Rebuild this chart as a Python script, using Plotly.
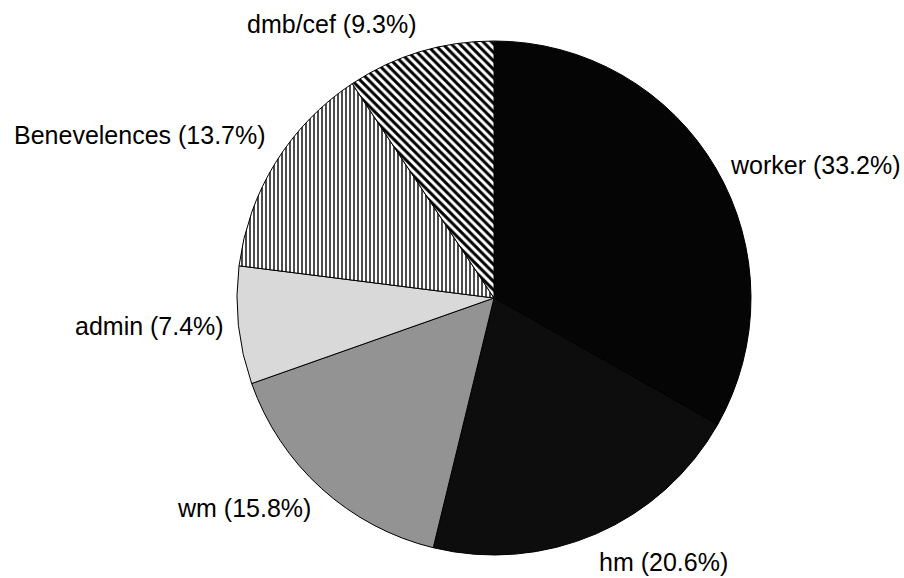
import plotly.graph_objects as go

# Share of each group, listed clockwise from 12 o'clock
categories = ["worker", "hm", "wm", "admin", "Benevelences", "dmb/cef"]
shares = [33.2, 20.6, 15.8, 7.4, 13.7, 9.3]

# Fill styling per slice
fill_colors = ["#050505", "#0d0d0d", "#939393", "#d9d9d9", "#ffffff", "#ffffff"]
fill_patterns = ["", "", "", "", "|", "\\"]
pattern_sizes = [8, 8, 8, 8, 4, 6]
pattern_solidity = [0.3, 0.3, 0.3, 0.3, 0.35, 0.5]

# Label anchor points (paper pixels) and horizontal anchoring
label_px = {
    "worker": (728, 165, "left"),
    "hm": (597, 562, "left"),
    "wm": (313, 508, "right"),
    "admin": (226, 326, "right"),
    "Benevelences": (12, 135, "left"),
    "dmb/cef": (245, 24, "left"),
}

W, H = 904, 578

fig = go.Figure(
    go.Pie(
        labels=categories,
        values=shares,
        sort=False,
        direction="clockwise",
        rotation=0,
        textinfo="none",
        hoverinfo="label+percent",
        showlegend=False,
        marker=dict(
            colors=fill_colors,
            line=dict(color="#000000", width=1),
            pattern=dict(
                shape=fill_patterns,
                fgcolor="#000000",
                size=pattern_sizes,
                solidity=pattern_solidity,
            ),
        ),
        domain=dict(x=[237 / W, 751 / W], y=[1 - 555 / H, 1 - 41 / H]),
    )
)

for name, val in zip(categories, shares):
    px, py, anchor = label_px[name]
    fig.add_annotation(
        x=px / W,
        y=1 - py / H,
        xref="paper",
        yref="paper",
        xanchor=anchor,
        yanchor="middle",
        text=f"{name} ({val:.1f}%)",
        showarrow=False,
        font=dict(family="Liberation Sans, Arial, sans-serif", size=25, color="#000000"),
    )

fig.update_layout(
    width=W,
    height=H,
    margin=dict(l=0, r=0, t=0, b=0),
    paper_bgcolor="white",
    plot_bgcolor="white",
)

fig.write_html("out.html")
